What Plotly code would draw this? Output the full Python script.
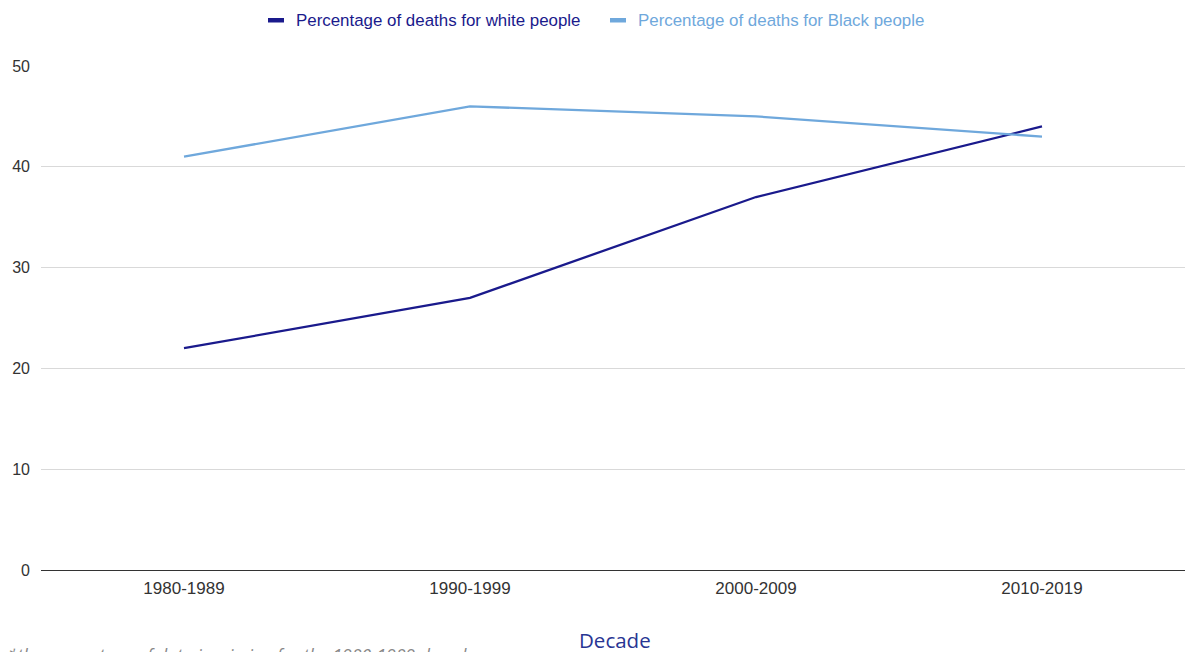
import plotly.graph_objects as go

decades = ["1980-1989", "1990-1999", "2000-2009", "2010-2019"]
white_pct = [22, 27, 37, 44]
black_pct = [41, 46, 45, 43]
y_ticks = [0, 10, 20, 30, 40, 50]

white_name = "Percentage of deaths for white people"
black_name = "Percentage of deaths for Black people"
white_color = "#1a1a8c"
black_color = "#6fa8dc"

SANS = "Liberation Sans, Arial, sans-serif"

# plot area in pixels: x 41..1185, y 66..570
PL, PW, PB, PH = 41, 1144, 570, 504


def px(x):
    return (x - PL) / PW


def py(y):
    return (PB - y) / PH


fig = go.Figure()
fig.add_trace(go.Scatter(x=decades, y=white_pct, mode="lines", name=white_name,
                         line=dict(color=white_color, width=2.3), showlegend=False))
fig.add_trace(go.Scatter(x=decades, y=black_pct, mode="lines", name=black_name,
                         line=dict(color=black_color, width=2.3), showlegend=False))

# Legend drawn as short colour bars with matching coloured labels
legend_items = [(white_name, white_color, 268, 296), (black_name, black_color, 610, 638)]
for name, color, sym_x, text_x in legend_items:
    fig.add_shape(type="rect", xref="paper", yref="paper",
                  x0=px(sym_x), x1=px(sym_x + 16),
                  y0=py(22.5), y1=py(18),
                  fillcolor=color, line=dict(width=0))
    fig.add_annotation(text=name, xref="paper", yref="paper",
                       x=px(text_x - 2), y=py(20.5),
                       xanchor="left", yanchor="middle", showarrow=False,
                       font=dict(family=SANS, size=16.9, color=color))

# Axis title
fig.add_annotation(text="Decade", xref="paper", yref="paper",
                   x=px(615), y=py(655), xanchor="center", yanchor="bottom",
                   showarrow=False, borderpad=0,
                   font=dict(family="Open Sans, sans-serif", size=20.5, color="#283593"))

# Footnote below the axis
fig.add_annotation(text="<i>*the percentage of data is missing for the 1980-1989 decade</i>",
                   xref="paper", yref="paper", x=px(6), y=py(655),
                   xanchor="left", yanchor="middle", showarrow=False,
                   font=dict(family="Open Sans, sans-serif", size=17.5, color="#888888"))

fig.update_layout(
    width=1185, height=652,
    margin=dict(l=PL, r=0, t=66, b=82),
    paper_bgcolor="white", plot_bgcolor="white",
    font=dict(family=SANS, size=16, color="#333333"),
    xaxis=dict(
        type="category", range=[-0.5, 3.5], showgrid=False,
        showline=True, linecolor="#333333", linewidth=1,
        ticks="", ticklabelstandoff=3, tickfont=dict(size=17, color="#333333"),
    ),
    yaxis=dict(
        range=[0, 50], tickvals=y_ticks, showgrid=True, gridcolor="#d9d9d9",
        gridwidth=1, zeroline=False, showline=False, ticks="",
        ticklabelstandoff=10, tickfont=dict(size=16, color="#333333"),
    ),
)

fig.write_html("out.html")
